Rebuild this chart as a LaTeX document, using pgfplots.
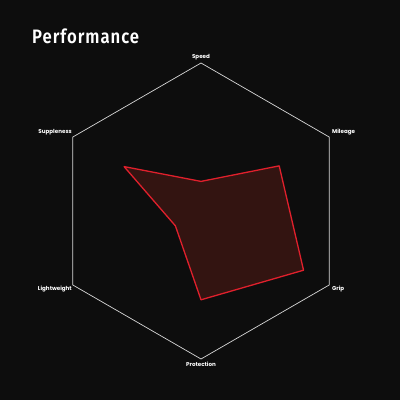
\documentclass[border=0pt]{standalone}
\usepackage{pgfplots}
\pgfplotsset{compat=1.18}
\usepackage{fontspec}
\setmainfont{Poppins}[UprightFont=*-Bold,BoldFont=*-Bold]
\newfontfamily\titlefont{Fira Sans}[UprightFont=* SemiBold,FakeStretch=0.86,LetterSpace=5]
\definecolor{bg}{HTML}{0D0D0D}
\definecolor{redline}{HTML}{E0202C}
\definecolor{redfill}{HTML}{331411}
\definecolor{grid}{HTML}{D8D8D8}
\begin{document}
\begin{tikzpicture}
\fill[bg] (0,0) rectangle (400bp,400bp);
\node[anchor=base west, text=white, inner sep=0pt, font=\titlefont\fontsize{19.5}{20}\selectfont] at (32bp,356bp) {Performance};
\begin{axis}[
  at={(0,0)}, anchor=south west,
  scale only axis, width=400bp, height=400bp,
  hide axis, clip=false,
  xmin=-13.581, xmax=13.446, ymin=-12.770, ymax=14.257,
]
% outer hexagon (scale 0-10)
\addplot[data cs=polar, draw=grid, line width=0.7bp, no markers] coordinates {
  (90,10) (30,10) (-30,10) (-90,10) (-150,10) (150,10) (90,10)
};
% values: Speed, Mileage, Grip, Protection, Lightweight, Suppleness
\addplot[data cs=polar, draw=redline, fill=redfill, line width=1.3bp, line join=round, no markers] coordinates {
  (90,2.0) (30,6.1) (-30,8.0) (-90,6.0) (-150,2.0) (150,6.0)
} -- cycle;
\begin{scope}[every node/.style={text=white, inner sep=0pt, font=\fontsize{5.6}{6}\selectfont}]
\node[anchor=center] at (axis cs:0,10.4) {Speed};
\node[anchor=east] at (axis cs:-8.72,5.34) {Suppleness};
\node[anchor=west] at (axis cs:8.85,5.34) {Mileage};
\node[anchor=east] at (axis cs:-8.72,-5.27) {Lightweight};
\node[anchor=west] at (axis cs:8.85,-5.27) {Grip};
\node[anchor=center] at (axis cs:0,-10.34) {Protection};
\end{scope}
\end{axis}
\end{tikzpicture}
\end{document}
